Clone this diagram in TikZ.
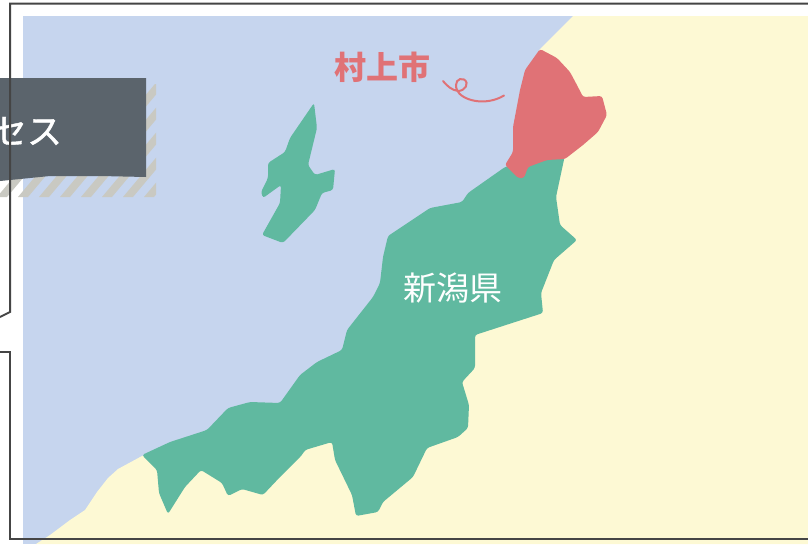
\documentclass[tikz,border=0pt]{standalone}
\usepackage{fontspec}
\newfontfamily\cjk{Noto Sans CJK JP}
\newfontfamily\cjkmed[FakeBold=1.2]{Noto Sans CJK JP}
\definecolor{seac}{HTML}{C6D5EE}
\definecolor{landc}{HTML}{FDF9D4}
\definecolor{greenc}{HTML}{60B9A0}
\definecolor{redc}{HTML}{E07276}
\definecolor{boxc}{HTML}{5B646C}
\definecolor{hatchc}{HTML}{C9C9C2}
\definecolor{framec}{HTML}{454545}
\tikzset{
  mapshape/.style={line join=round,rounded corners=2.5pt},
  frameline/.style={draw=framec,line width=2pt,line join=miter},
  maplabel/.style={inner sep=0pt,font=\cjk},
}
\begin{document}
\begin{tikzpicture}[x=1pt,y=-1pt]
\useasboundingbox (0,0) rectangle (808,544);
\fill[white] (0,0) rectangle (808,544);
% sea and land
\fill[seac] (23,16) rectangle (808,544);
\fill[landc] (573,16) -- (808,16) -- (808,544) -- (36,544) -- (50,535) -- (70,520) -- (85,510) -- (97,492) -- (108,478) -- (118,469) -- (142,456) -- (172,445) -- (210,433) -- (232,412) -- (252,406) -- (283,407) -- (303,378) -- (320,365) -- (345,353) -- (350,332) -- (376,299) -- (384,284) -- (387,258) -- (391,238) -- (432,212) -- (464,205) -- (470,196) -- (508,170) -- (516,152) -- (516,127) -- (523,90) -- (528,70) -- (540,49) -- cycle;
% Sado
\fill[greenc,mapshape] (314,103) -- (317,128) -- (308,165) -- (315,175) -- (335,169) -- (333,190) -- (322,193) -- (315,210) -- (283,243) -- (262,235) -- (280,203) -- (281,185) -- (263,198) -- (261,192) -- (268,178) -- (268,163) -- (285,152) -- (290,138) -- cycle;
% Niigata
\fill[greenc,mapshape] (505,167) -- (468,193) -- (462,202) -- (430,208) -- (388,236) -- (383,257) -- (380,283) -- (373,297) -- (347,330) -- (342,350) -- (317,362) -- (300,375) -- (280,403) -- (250,402) -- (228,408) -- (207,430) -- (170,442) -- (142,455) -- (157,470) -- (159,493) -- (168,514) -- (185,487) -- (201,470) -- (222,483) -- (228,496) -- (242,489) -- (263,495) -- (280,477) -- (302,455) -- (305,450) -- (332,442) -- (335,460) -- (352,495) -- (356,516) -- (378,512) -- (383,502) -- (413,477) -- (427,448) -- (458,437) -- (468,428) -- (469,405) -- (462,382) -- (475,368) -- (475,335) -- (543,313) -- (541,293) -- (554,260) -- (577,240) -- (560,225) -- (556,197) -- (565,155) -- (547,155) -- cycle;
% Murakami
\fill[redc,mapshape] (540,49) -- (557,58) -- (570,72) -- (578,87) -- (583,97) -- (602,96) -- (607,115) -- (598,132) -- (583,145) -- (565,159) -- (547,160) -- (528,167) -- (524,178) -- (518,178) -- (505,165) -- (513,152) -- (513,127) -- (520,90) -- (525,70) -- cycle;
% hatched shadow
\begin{scope}
\clip (0,84) rectangle (156,197);
\foreach \k in {-1,...,14} {
  \fill[hatchc] ({18+21*\k},197) -- ({28+21*\k},197) -- ({28+21*\k+105},{197-125}) -- ({18+21*\k+105},{197-125}) -- cycle;
}
\end{scope}
% dark box
\fill[boxc] (0,78) -- (146,78) -- (146,177) -- (100,176) -- (50,176) -- (0,181) -- cycle;
\node[maplabel,text=white,font=\cjkmed\fontsize{35}{35}\selectfont] (access) at (27,131) {セス};
% labels
\node[maplabel,text=redc,font=\cjk\bfseries\fontsize{32}{32}\selectfont] (city) at (382,67) {村上市};
\node[maplabel,text=white,font=\cjk\fontsize{33}{33}\selectfont] (pref) at (452.5,288) {新潟県};
% squiggle
\draw[redc,line width=2pt,line cap=round] (443,81) .. controls (448,87) and (452,90) .. (458,91) .. controls (465,91) and (470,83) .. (464,79.5) .. controls (458,77) and (454,83) .. (457,90) .. controls (461,100) and (485,107) .. (504,95.5);
% frame
\draw[frameline] (808,3.5) -- (10,3.5) -- (10,312) -- (0,317);
\draw[frameline] (0,352) -- (10,352) -- (10,539) -- (808,539);
\end{tikzpicture}
\end{document}
